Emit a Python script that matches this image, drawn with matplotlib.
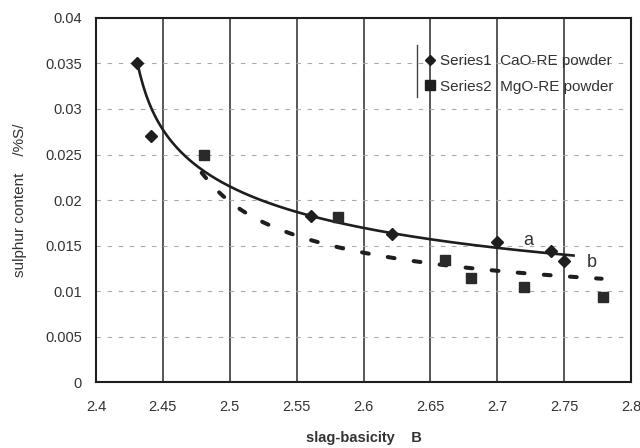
import numpy as np
import matplotlib
matplotlib.use("Agg")
import matplotlib.pyplot as plt

plt.rcParams['font.family'] = ['Liberation Sans', 'DejaVu Sans']

# Data
s1_x = [2.431, 2.441, 2.561, 2.621, 2.700, 2.740, 2.750]
s1_y = [0.035, 0.027, 0.0182, 0.0163, 0.0154, 0.0144, 0.0133]
s2_x = [2.481, 2.581, 2.661, 2.680, 2.720, 2.779]
s2_y = [0.025, 0.0181, 0.0134, 0.0114, 0.0104, 0.0094]

# Hand-drawn trend curves a and b
curve_a_x = [2.431, 2.451, 2.477, 2.501, 2.530, 2.561, 2.600, 2.651, 2.700, 2.757]
curve_a_y = [0.035, 0.0271, 0.0240, 0.0218, 0.0196, 0.0181, 0.0167, 0.0153, 0.0147, 0.0143]
curve_b_x = [2.479, 2.485, 2.493, 2.501, 2.514, 2.528, 2.543, 2.559, 2.604, 2.627,
             2.650, 2.675, 2.699, 2.726, 2.752, 2.778]
curve_b_y = [0.0231, 0.0218, 0.0206, 0.0196, 0.0185, 0.0175, 0.0166, 0.0158, 0.0141, 0.0134,
             0.0129, 0.0125, 0.0121, 0.0118, 0.0117, 0.0116]

x_ticks = [2.4, 2.45, 2.5, 2.55, 2.6, 2.65, 2.7, 2.75, 2.8]
x_tick_labels = ["2.4", "2.45", "2.5", "2.55", "2.6", "2.65", "2.7", "2.75", "2.8"]
y_ticks = [0, 0.005, 0.01, 0.015, 0.02, 0.025, 0.03, 0.035, 0.04]
y_tick_labels = ["0", "0.005", "0.01", "0.015", "0.02", "0.025", "0.03", "0.035", "0.04"]

legend_labels = ["Series1  CaO-RE powder", "Series2  MgO-RE powder"]

fig = plt.figure(figsize=(6.4, 4.48), dpi=100)
ax = fig.add_axes([0.15, 0.147, 0.836, 0.813])

def smooth(xs, ys, x0, deg=3):
    L = np.log(np.array(xs) - x0)
    p = np.polyfit(L, ys, deg)
    xx = np.linspace(min(xs), max(xs), 300)
    return xx, np.polyval(p, np.log(xx - x0))

xa, ya = smooth(curve_a_x, curve_a_y, 2.428)
ax.plot(xa, ya, color='#1e1e1e', lw=1.9, zorder=3)

xb, yb = smooth(curve_b_x, curve_b_y, 2.47)
ax.plot(xb, yb, color='#1e1e1e', lw=2.9, ls=(0, (1.7, 4.8)),
        solid_capstyle='round', dash_capstyle='round', zorder=3)

ax.plot(s1_x, s1_y, ls='none', marker='D', ms=6, color='#1e1e1e', zorder=4)
ax.plot(s2_x, s2_y, ls='none', marker='s', ms=7, color='#2a2a2a', zorder=4)

ax.text(2.723, 0.0156, "a", fontsize=13, color='#333333', ha='center', va='center')
ax.text(2.771, 0.0131, "b", fontsize=13, color='#333333', ha='center', va='center')

ax.set_xlim(2.4, 2.8)
ax.set_ylim(0, 0.04)
ax.set_xticks(x_ticks)
ax.set_xticklabels(x_tick_labels, fontsize=10.5, color='#333333')
ax.set_yticks(y_ticks)
ax.set_yticklabels(y_tick_labels, fontsize=10.5, color='#333333')
ax.tick_params(axis='x', length=0, pad=13)
ax.tick_params(axis='y', length=0, pad=10)

for x in x_ticks[1:-1]:
    ax.axvline(x, color='#2a2a2a', lw=1.1, zorder=1)
for y in y_ticks[1:-1]:
    ax.axhline(y, color='#aaaaaa', lw=0.8, ls=(0, (4, 6)), zorder=1)

for sp in ax.spines.values():
    sp.set_color('#1e1e1e')
    sp.set_linewidth(1.5)

ax.set_xlabel("slag-basicity    B", fontsize=10.5, fontweight='bold', color='#333333', labelpad=12)
ax.set_ylabel("sulphur content    /%S/", fontsize=11, color='#333333', labelpad=13)

# legend
h1 = plt.Line2D([], [], ls='none', marker='D', ms=5, color='#1e1e1e')
h2 = plt.Line2D([], [], ls='none', marker='s', ms=6.5, color='#1e1e1e')
leg = ax.legend([h1, h2], legend_labels, loc='upper left', bbox_to_anchor=(0.617, 0.9),
                frameon=False, fontsize=11, handlelength=0.5, handletextpad=0.4,
                labelspacing=0.75, borderaxespad=0, borderpad=0)
for t in leg.get_texts():
    t.set_color('#333333')
ax.plot([0.6, 0.6], [0.783, 0.926], transform=ax.transAxes, color='#444444', lw=1, zorder=5)

fig.savefig("out.png", dpi=100)
